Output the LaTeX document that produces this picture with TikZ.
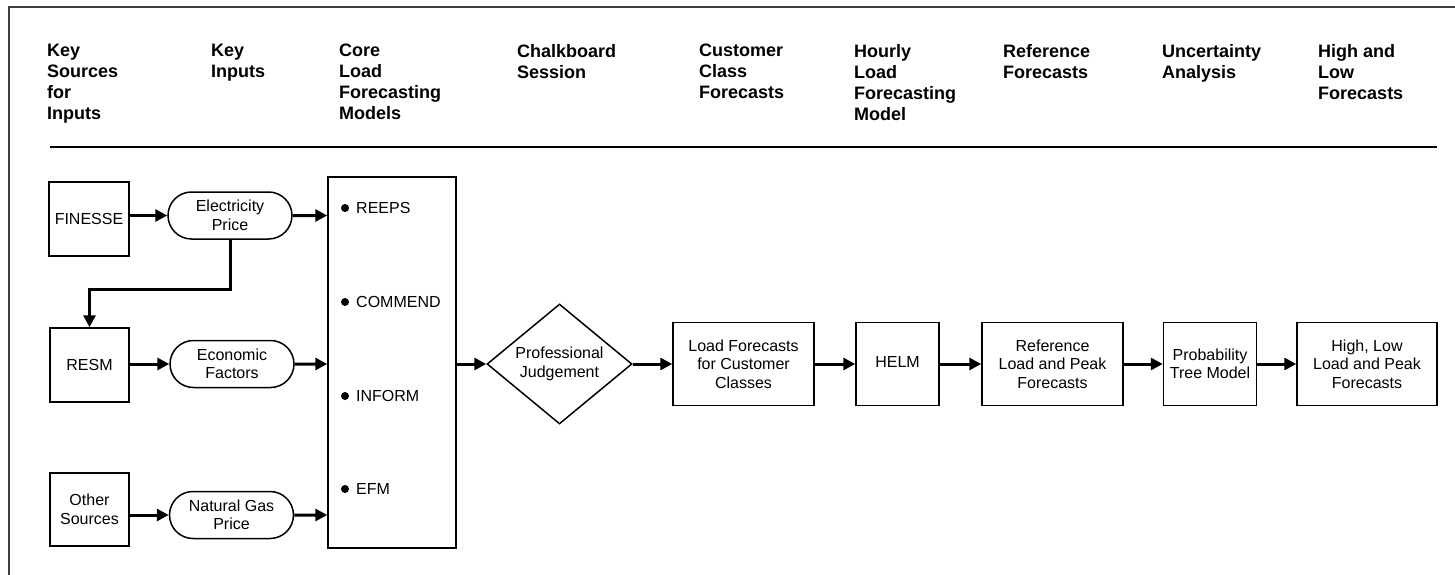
\documentclass[tikz,border=0pt]{standalone}
\usepackage{fontspec}
\setmainfont{Liberation Sans}
\usetikzlibrary{arrows.meta,shapes.geometric,shapes.misc,positioning}

\begin{document}
\begin{tikzpicture}[x=1pt,y=-1pt,
    box/.style={draw,line width=1.5pt,inner sep=0pt,align=center,font=\fontsize{16}{18.5}\selectfont},
    pill/.style={box,rounded rectangle,minimum width=124pt,minimum height=47pt},
    head/.style={anchor=north west,inner sep=0pt,align=left,font=\fontsize{18}{21}\selectfont\bfseries},
    arr/.style={line width=3pt,-{Triangle[length=12pt,width=12pt]}}]
  \useasboundingbox (0,0) rectangle (1455,575);
  \draw[line width=2pt,black!75] (8.5,575) -- (8.5,7.5) -- (1455,7.5);
  % column headings
  \foreach \x/\t [count=\i] in {47/{Key\\Sources\\for\\Inputs},211/{Key\\Inputs},
      339/{Core\\Load\\Forecasting\\Models},517/{Chalkboard\\Session},
      699/{Customer\\Class\\Forecasts},854/{Hourly\\Load\\Forecasting\\Model},
      1003/{Reference\\Forecasts},1162/{Uncertainty\\Analysis},1318/{High and\\Low\\Forecasts}}
    \node[head] (h\i) at (\x,44) {\t};
  \draw[line width=1.5pt] (50,147) -- (1437,147);
  % inputs and sources
  \node[box,minimum width=80pt,minimum height=74pt] (finesse) at (89,219) {FINESSE};
  \node[pill] (elec) at (230,215.5) {Electricity\\Price};
  \node[box,minimum width=79pt,minimum height=74pt] (resm) at (89.5,365) {RESM};
  \node[pill] (econ) at (232,364) {Economic\\Factors};
  \node[box,minimum width=79pt,minimum height=73pt] (other) at (89.5,509.5) {Other\\Sources};
  \node[pill] (gas) at (231.5,515) {Natural Gas\\Price};
  % core models
  \node[box,minimum width=128pt,minimum height=371pt] (core) at (392,362.5) {};
  \foreach \y/\m in {208/reeps,302/commend,396/inform,489/efm} {
    \fill (345,\y) circle (4pt);
    \node[anchor=west,inner sep=0pt,font=\fontsize{16}{18.5}\selectfont] (\m) at (356,\y) {\MakeUppercase{\m}};}
  \draw[arr] (finesse.east |- elec) -- (elec.west);
  \draw[arr] (elec) -- (elec -| core.west);
  \draw[arr] (elec.south) -- ++(0,50) -| (resm.north);
  \draw[arr] (resm.east |- econ) -- (econ.west);
  \draw[arr] (econ) -- (econ -| core.west);
  \draw[arr] (other.east |- gas) -- (gas.west);
  \draw[arr] (gas) -- (gas -| core.west);
  % forecasting chain
  \node[box,diamond,aspect=1.2,minimum width=145pt,minimum height=120pt] (judge) at (559.5,364) {Professional\\Judgement};
  \node[box,minimum width=141pt,minimum height=83pt] (lfcc) at (743.5,364) {Load Forecasts\\for Customer\\Classes};
  \node[box,minimum width=83pt,minimum height=83pt] (helm) at (897.5,364) {\raisebox{5pt}{HELM}};
  \node[box,minimum width=141pt,minimum height=83pt] (ref) at (1052.5,364) {Reference\\Load and Peak\\Forecasts};
  \node[box,minimum width=93pt,minimum height=83pt] (prob) at (1210,364) {Probability\\Tree Model};
  \node[box,minimum width=140pt,minimum height=83pt] (hilo) at (1367,364) {High, Low\\Load and Peak\\Forecasts};
  \draw[arr] (core.east |- judge) -- (judge.west);
  \foreach \a/\b in {judge/lfcc,lfcc/helm,helm/ref,ref/prob,prob/hilo}
    \draw[arr] (\a) -- (\b);
\end{tikzpicture}
\end{document}
